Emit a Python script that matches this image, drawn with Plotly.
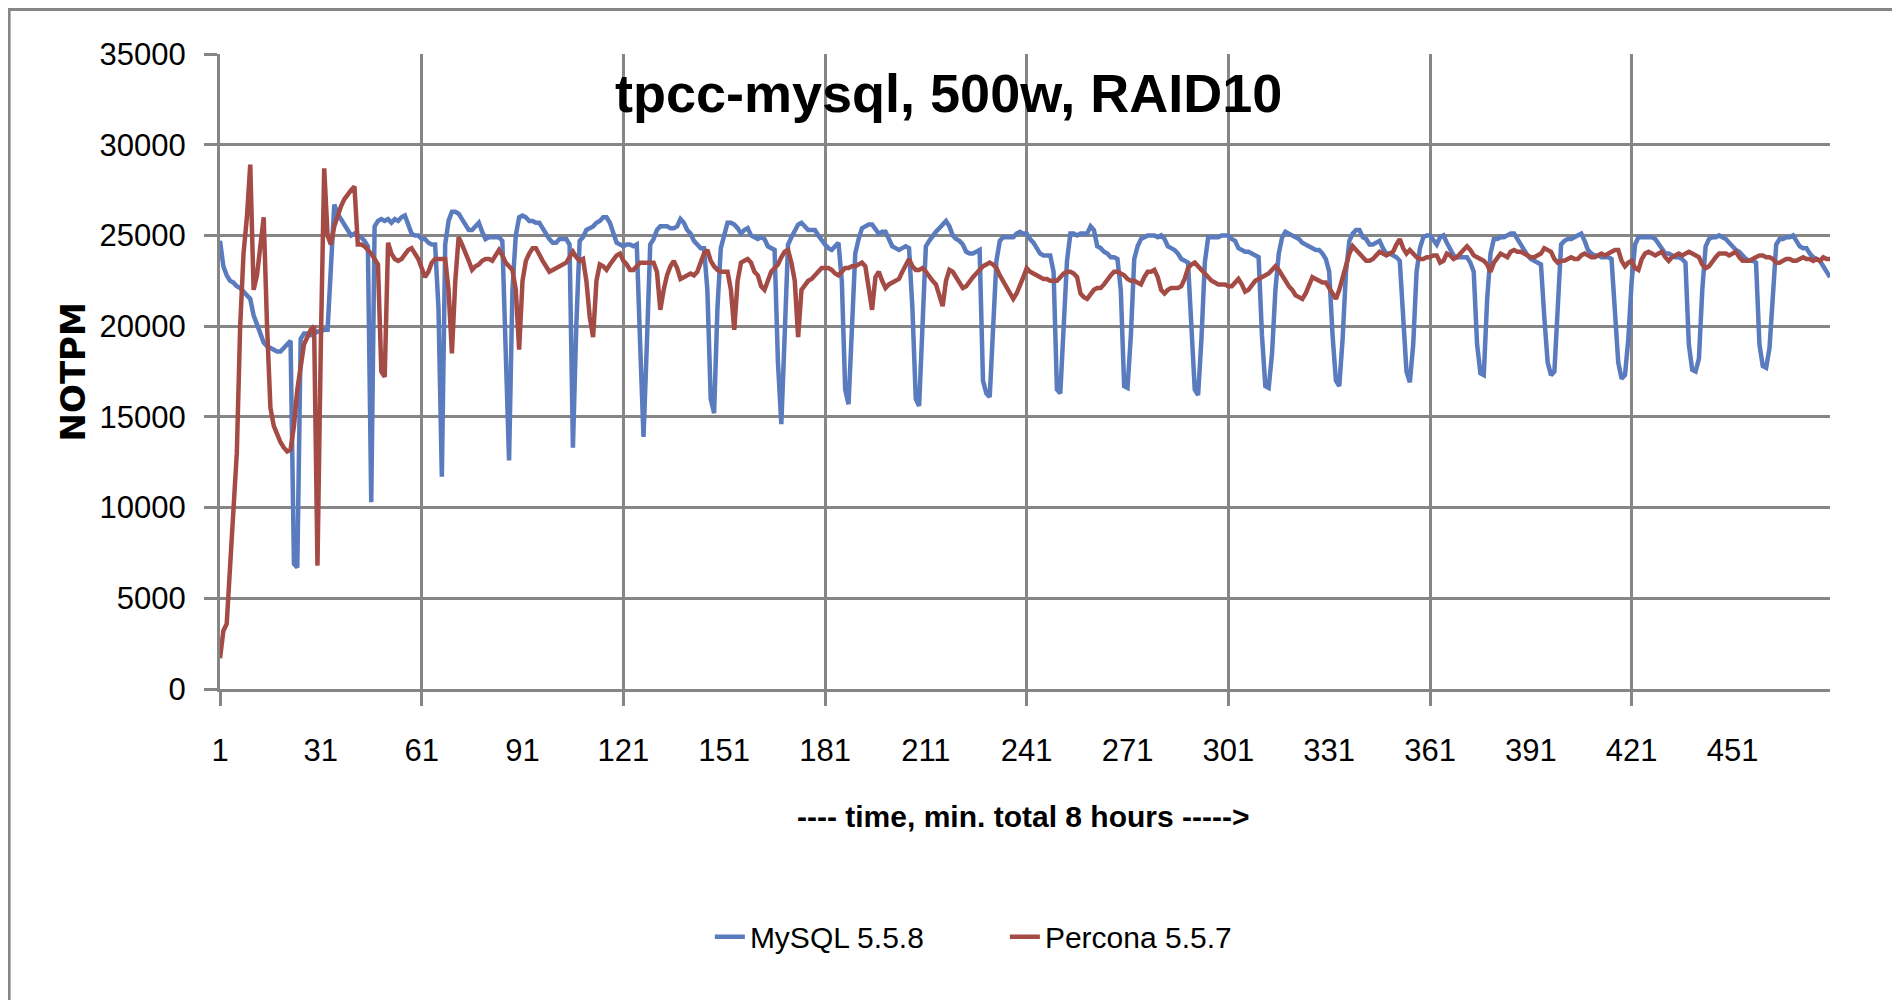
import plotly.graph_objects as go

minutes = list(range(1, 481))

mysql_558 = [
    24700, 23300, 22800, 22500, 22400, 22200, 22100, 21900, 21700, 21500,
    20600, 20000, 19600, 19100, 18900, 18800, 18700, 18600, 18600, 18800,
    19000, 19200, 6900, 6700, 19300, 19600, 19600, 19500, 19600, 19700,
    19700, 19800, 19800, 23000, 26700, 26200, 25900, 25500, 25200, 25000,
    25100, 25000, 24900, 24700, 24400, 10300, 25500, 25800, 25900, 25800,
    25900, 25700, 25900, 25800, 26000, 26100, 25600, 25100, 25000, 25000,
    24800, 24800, 24600, 24500, 24500, 21000, 11700, 24500, 25800, 26300,
    26300, 26200, 25900, 25600, 25300, 25300, 25500, 25700, 25200, 24800,
    24900, 24900, 24900, 24900, 24700, 19000, 12600, 22000, 25000, 26000,
    26100, 26000, 25800, 25800, 25700, 25700, 25400, 25000, 24800, 24600,
    24600, 24800, 24800, 24800, 24500, 13300, 20000, 24700, 24900, 25300,
    25400, 25500, 25700, 25800, 26000, 26000, 25700, 25200, 24600, 24500,
    24400, 24500, 24500, 24400, 24500, 19000, 13900, 19000, 24500, 24800,
    25300, 25500, 25500, 25500, 25400, 25400, 25500, 25900, 25700, 25300,
    25100, 24700, 24500, 24300, 24300, 22000, 16000, 15200, 21000, 24300,
    25000, 25700, 25700, 25600, 25400, 25100, 25300, 25400, 25000, 24900,
    24800, 24900, 24800, 24400, 24300, 24200, 18000, 14600, 19500, 24500,
    24900, 25300, 25600, 25700, 25500, 25300, 25300, 25300, 25000, 24700,
    24500, 24300, 24200, 24400, 24600, 22500, 16500, 15700, 20000, 24000,
    24800, 25400, 25500, 25600, 25600, 25300, 25100, 25200, 25200, 24800,
    24400, 24300, 24200, 24300, 24400, 24300, 21000, 16000, 15600, 20000,
    24400, 24700, 25000, 25200, 25400, 25600, 25800, 25500, 25000, 24800,
    24700, 24500, 24100, 24000, 24000, 24100, 24200, 17000, 16300, 16100,
    20000, 23600, 24700, 24900, 24900, 24900, 24900, 25100, 25200, 25100,
    25100, 24800, 24600, 24300, 24000, 23900, 23900, 23900, 23000, 16500,
    16300, 20000, 23600, 25100, 25100, 25000, 25100, 25100, 25100, 25500,
    25300, 24400, 24300, 24100, 24000, 23800, 23800, 23700, 22000, 16700,
    16600, 19500, 23700, 24400, 24800, 24900, 25000, 25000, 25000, 24900,
    25000, 24800, 24400, 24300, 24200, 24000, 23700, 23600, 23500, 20000,
    16500, 16200, 19300, 23500, 24900, 24900, 24900, 24900, 25000, 25000,
    25000, 24800, 24700, 24300, 24200, 24100, 24100, 24000, 23900, 23800,
    19500, 16700, 16600, 18500, 22000, 24000, 24900, 25200, 25100, 25000,
    24900, 24800, 24600, 24500, 24400, 24300, 24200, 24200, 24000, 23700,
    23000, 19500, 17000, 16700, 19300, 23000, 24700, 25100, 25300, 25300,
    24900, 24800, 24500, 24500, 24600, 24700, 24300, 24000, 24000, 23900,
    23800, 23600, 20000, 17500, 16900, 19000, 23000, 24300, 24900, 25000,
    25000, 24700, 24500, 24900, 25000, 24600, 24200, 23900, 23800, 23800,
    23800, 23800, 23500, 23000, 19000, 17400, 17300, 21500, 24000, 24800,
    24800, 24900, 24900, 25000, 25100, 25100, 24800, 24400, 24100, 23900,
    23700, 23600, 23500, 23400, 20500, 18000, 17300, 17500, 21000, 24500,
    24700, 24800, 24800, 24900, 25000, 25100, 24700, 24200, 24000, 23900,
    23900, 23800, 23800, 23800, 23700, 21000, 18000, 17100, 17300, 19300,
    22500, 24500, 24900, 24900, 24900, 24900, 24900, 24800, 24500, 24200,
    24000, 24000, 23900, 23800, 23800, 23700, 23500, 19000, 17600, 17500,
    18200, 22000, 24400, 24800, 24900, 24900, 25000, 24900, 24800, 24600,
    24400, 24200, 24100, 23900, 23700, 23600, 23600, 23500, 19000, 17800,
    17700, 18800, 21500, 24500, 24800, 24800, 24900, 24900, 25000, 24700,
    24400, 24300, 24300, 24000, 23800, 23700, 23600, 23300, 23000, 22700,
]

percona_557 = [
    1700, 3200, 3600, 6500, 9600, 13000, 20000, 24000, 26000, 28900,
    22000, 22800, 24400, 26000, 20000, 15500, 14500, 14000, 13600, 13300,
    13100, 13200, 14500, 16500, 18000, 19000, 19400, 19800, 20000, 6800,
    19000, 28700, 25000, 24500, 25500, 26100, 26600, 27000, 27300, 27500,
    27700, 24500, 24500, 24400, 24200, 24000, 23700, 23400, 17500, 17200,
    24600, 24000, 23700, 23600, 23700, 24000, 24200, 24300, 24000, 23700,
    23200, 22700, 23000, 23500, 23700, 23700, 23700, 23700, 22000, 18500,
    22500, 24900, 24500, 24100, 23600, 23100, 23300, 23400, 23600, 23700,
    23700, 23600, 23900, 24200, 23900, 23500, 23300, 23100, 22000, 18700,
    22500, 23600, 24000, 24300, 24300, 23900, 23600, 23300, 23000, 23100,
    23200, 23300, 23400, 23500, 23800, 24100, 23800, 23600, 23700, 22500,
    20500, 19400, 22500, 23400, 23300, 23100, 23400, 23700, 23900, 24000,
    23600, 23400, 23100, 23100, 23300, 23500, 23500, 23500, 23500, 23500,
    23000, 20900, 22000, 22800, 23300, 23600, 23200, 22600, 22700, 22800,
    22900, 22800, 23000, 23500, 24000, 24200, 23600, 23300, 23100, 23000,
    23000, 23000, 22000, 19800, 22500, 23500, 23600, 23700, 23500, 23000,
    22800, 22200, 22000, 22500, 23000, 23200, 23400, 23800, 24100, 24200,
    23500, 22500, 19400, 22000, 22300, 22500, 22600, 22800, 23000, 23200,
    23200, 23200, 23100, 22900, 22800, 23000, 23200, 23200, 23300, 23300,
    23400, 23500, 23300, 22000, 20900, 22700, 23000, 22500, 22100, 22300,
    22400, 22500, 22600, 23000, 23400, 23700, 23300, 23100, 23100, 23200,
    23000, 22700, 22500, 22300, 21700, 21100, 22500, 23100, 23000, 22700,
    22400, 22100, 22200, 22500, 22700, 22900, 23100, 23300, 23400, 23500,
    23400, 23200, 22800, 22500, 22200, 21900, 21500, 21800, 22200, 22700,
    23200, 23000, 22900, 22800, 22700, 22600, 22600, 22500, 22500, 22500,
    22700, 22900, 23000, 23000, 22900, 22700, 21800, 21600, 21500, 21800,
    22000, 22100, 22100, 22300, 22600, 22800, 23000, 23000, 22900, 22800,
    22600, 22500, 22500, 22400, 22300, 22700, 23000, 23000, 23100, 22700,
    22000, 21800, 22000, 22100, 22100, 22100, 22200, 22600, 23200, 23400,
    23500, 23300, 23100, 22900, 22700, 22500, 22400, 22300, 22300, 22300,
    22200, 22200, 22400, 22600, 22300, 21900, 22000, 22300, 22500, 22600,
    22700, 22800, 22900, 23100, 23300, 23100, 22800, 22400, 22200, 22000,
    21700, 21600, 21500, 21800, 22200, 22700, 22600, 22500, 22400, 22400,
    22100, 21700, 21500, 22000, 22700, 23300, 24000, 24400, 24200, 24000,
    23800, 23600, 23600, 23700, 23900, 24100, 24000, 23900, 24000, 24100,
    24500, 24800, 24300, 24000, 24200, 24000, 23800, 23700, 23700, 23800,
    23800, 23900, 23900, 23500, 23600, 24000, 23900, 23700, 23800, 24000,
    24200, 24400, 24200, 23900, 23800, 23700, 23600, 23400, 23000, 23500,
    23800, 24000, 23900, 23800, 24100, 24200, 24100, 24100, 24000, 23900,
    23800, 23800, 23900, 24000, 24300, 24200, 24100, 23700, 23500, 23600,
    23600, 23700, 23800, 23700, 23700, 23900, 24000, 23900, 23800, 23800,
    23900, 24000, 23900, 24000, 24100, 24200, 24200, 23600, 23300, 23500,
    23600, 23200, 23100, 23700, 24000, 24100, 24000, 23900, 24000, 24100,
    23800, 23600, 23800, 23900, 24000, 23900, 24000, 24100, 24000, 23900,
    23800, 23400, 23200, 23300, 23600, 23800, 24000, 24000, 24000, 23900,
    24000, 24100, 23800, 23600, 23600, 23600, 23700, 23800, 23900, 23900,
    23800, 23800, 23700, 23500, 23500, 23600, 23700, 23700, 23600, 23600,
    23700, 23800, 23700, 23700, 23600, 23700, 23600, 23800, 23700, 23700,
]

series_names = ["MySQL 5.5.8", "Percona 5.5.7"]
series_colors = ["#5A7BBE", "#A44B45"]

y_tick_values = [0, 5000, 10000, 15000, 20000, 25000, 30000, 35000]
x_label_values = list(range(1, 452, 30))
x_grid_values = list(range(1, 422, 60))

title_text = "tpcc-mysql, 500w, RAID10"
x_title_text = "---- time, min. total 8 hours ----->"
y_title_text = "NOTPM"

GRID = "#868686"
SANS = "Liberation Sans, Arial, sans-serif"

fig = go.Figure()
# MySQL on the base x axis (grid every 60 min), Percona on the overlaid
# twin axis that carries the 30-minute labels; both share the same range.
fig.add_trace(go.Scatter(
    x=minutes, y=mysql_558, mode="lines", name=series_names[0],
    line=dict(color=series_colors[0], width=4.5), xaxis="x", yaxis="y",
))
fig.add_trace(go.Scatter(
    x=minutes, y=percona_557, mode="lines", name=series_names[1],
    line=dict(color=series_colors[1], width=4.5), xaxis="x2", yaxis="y",
))

fig.update_layout(
    width=1892, height=992,
    paper_bgcolor="white", plot_bgcolor="white",
    margin=dict(l=212, r=70, t=46, b=311, autoexpand=False),
    showlegend=True,
    legend=dict(
        orientation="h", x=0.4875, xanchor="center", y=-0.39, yanchor="middle",
        font=dict(family=SANS, size=30, color="black"),
        entrywidth=250, entrywidthmode="pixels",
        tracegroupgap=0, bgcolor="rgba(0,0,0,0)",
    ),
    xaxis=dict(
        range=[1, 480], autorange=False,
        tickmode="array", tickvals=x_grid_values,
        showticklabels=False,
        ticks="outside", ticklen=14, tickwidth=3, tickcolor=GRID,
        showgrid=True, gridcolor=GRID, gridwidth=3,
        showline=True, linecolor=GRID, linewidth=3,
        zeroline=False,
    ),
    xaxis2=dict(
        overlaying="x", anchor="y", side="bottom",
        range=[1, 480], autorange=False,
        tickmode="array", tickvals=x_label_values,
        ticks="", showgrid=False, showline=False, zeroline=False,
        tickfont=dict(family=SANS, size=31, color="black"),
        ticklabelstandoff=40,
    ),
    yaxis=dict(
        range=[0, 35000], autorange=False,
        tickmode="array", tickvals=y_tick_values, tickformat="d",
        ticks="outside", ticklen=13, tickwidth=3, tickcolor=GRID,
        showgrid=True, gridcolor=GRID, gridwidth=3,
        showline=True, linecolor=GRID, linewidth=3,
        zeroline=False,
        tickfont=dict(family=SANS, size=31, color="black"),
        ticklabelstandoff=12,
    ),
    annotations=[
        dict(text="<b>" + title_text + "</b>", xref="paper", yref="paper",
             x=0.4527, y=0.9386, xanchor="center", yanchor="middle",
             showarrow=False,
             font=dict(family=SANS, size=54, color="black")),
        dict(text="<b>" + x_title_text + "</b>", xref="paper", yref="paper",
             x=0.499, y=-0.2, xanchor="center", yanchor="middle",
             showarrow=False,
             font=dict(family=SANS, size=30, color="black")),
        dict(text="<b>" + y_title_text + "</b>", xref="paper", yref="paper",
             x=-0.0912, y=0.4988, xanchor="center", yanchor="middle",
             textangle=-90, showarrow=False,
             font=dict(family="DejaVu Sans, sans-serif", size=34, color="black")),
    ],
    shapes=[
        dict(type="rect", xref="paper", yref="paper",
             x0=-0.131, x1=1.040, y0=-0.52, y1=1.0701,
             line=dict(color=GRID, width=3), fillcolor="rgba(0,0,0,0)",
             layer="below"),
    ],
)

fig.write_html("out.html")
